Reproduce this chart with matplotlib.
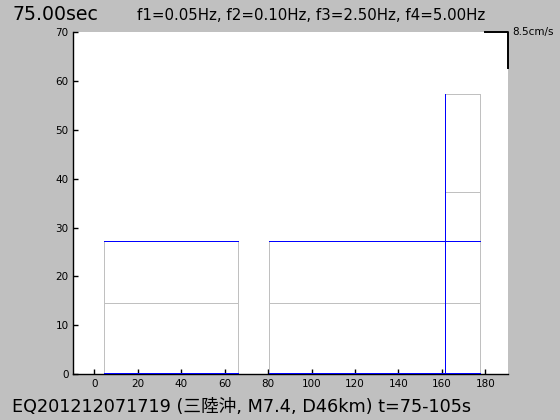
import matplotlib
matplotlib.use("Agg")
import matplotlib.pyplot as plt

# gray outline boxes (data units)
box_left = [4.3, 80.6, 161.6]
box_right = [65.9, 177.7, 177.7]
box_bottom = [0.0, 0.0, 27.2]
box_top = [27.2, 27.2, 57.3]
box_mid = [14.5, 14.5, 37.2]

# blue levels
level_x0 = [4.3, 80.6]
level_x1 = [65.9, 177.7]
level_y = [27.2, 27.2]
spike_x = 161.6
spike_top = 57.3

xticks = [0, 20, 40, 60, 80, 100, 120, 140, 160, 180]
yticks = [0, 10, 20, 30, 40, 50, 60, 70]

W, H = 560, 420
bg = "#c0c0c0"
gray = "#c0c0c0"
blue = "#0000ff"
lw = 0.72  # one pixel at 100 dpi

fig = plt.figure(figsize=(W / 100, H / 100), dpi=100, facecolor=bg)
ax = fig.add_axes([73.3 / W, 1 - 374 / H, 434.2 / W, 341.7 / H])
ax.set_facecolor("white")
ax.set_xlim(-9.7, 190.2)
ax.set_ylim(0, 70)

for s in ["top", "right"]:
    ax.spines[s].set_visible(False)
for s in ["left", "bottom"]:
    ax.spines[s].set_linewidth(1.0)
    ax.spines[s].set_color("black")

# gray boxes
for l, r, b, t, m in zip(box_left, box_right, box_bottom, box_top, box_mid):
    ax.plot([l, l, r, r, l], [b, t, t, b, b], color=gray, lw=lw, zorder=2,
            clip_on=False, antialiased=False)
    ax.plot([l, r], [m, m], color=gray, lw=lw, zorder=2, antialiased=False)
# lower part of the tall box edge
ax.plot([box_right[2], box_right[2]], [0, box_bottom[2]], color=gray, lw=lw,
        zorder=2, antialiased=False)

# blue levels and baselines
for x0, x1, y in zip(level_x0, level_x1, level_y):
    ax.plot([x0, x1], [y, y], color=blue, lw=lw, zorder=3, antialiased=False)
    ax.plot([x0, x1], [0.15, 0.15], color=blue, lw=lw, zorder=4,
            clip_on=False, antialiased=False)
ax.plot([spike_x, spike_x], [0, spike_top], color=blue, lw=lw, zorder=3,
        antialiased=False)

ax.set_xticks(xticks)
ax.set_yticks(yticks)
tick_font = ["Liberation Sans Narrow", "DejaVu Sans"]
ax.tick_params(direction="in", length=3.5, width=1.0, labelsize=7.5, pad=3.3)
for lab in ax.get_xticklabels() + ax.get_yticklabels():
    lab.set_family(tick_font)

# scale bar
ax.plot([0.948, 1.0, 1.0], [1.0, 1.0, 0.895], color="black", lw=1.4,
        transform=ax.transAxes, clip_on=False, zorder=5)
fig.text(512 / W, 1 - 32 / H, "8.5cm/s", fontsize=7.5, family="DejaVu Sans",
         va="center", ha="left")

fig.text(12 / W, 1 - 19.5 / H, "75.00sec", fontsize=13.6, family="DejaVu Sans",
         va="baseline", ha="left")
fig.text(137 / W, 1 - 20.4 / H, "f1=0.05Hz, f2=0.10Hz, f3=2.50Hz, f4=5.00Hz",
         fontsize=10.8, family="DejaVu Sans", va="baseline", ha="left")
fig.text(12 / W, 1 - 411.7 / H, "EQ201212071719 (三陸沖, M7.4, D46km) t=75-105s",
         fontsize=12.7, family=["DejaVu Sans", "Noto Sans CJK JP"],
         va="baseline", ha="left")

fig.savefig("out.png", dpi=100, facecolor=bg)
